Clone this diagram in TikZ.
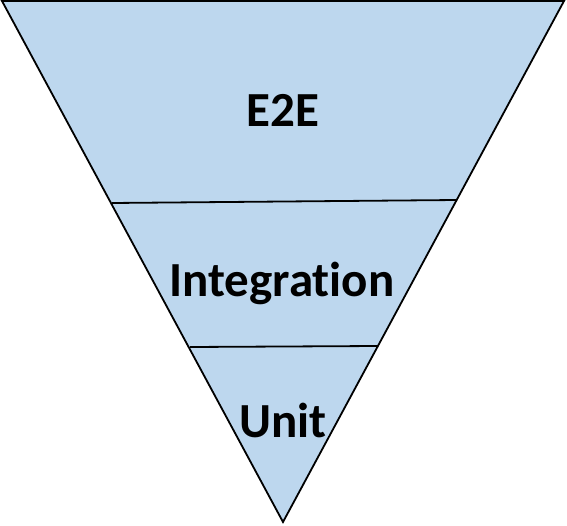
\documentclass[tikz,border=0pt]{standalone}
\usepackage{fontspec}
\setmainfont{Carlito}[Ligatures={NoCommon,NoRare,NoContextual}]
\definecolor{tierblue}{HTML}{BDD7EE}
\begin{document}
\begin{tikzpicture}[x=1pt,y=-1pt,
  edge/.style={draw=black,line width=1.8pt,line join=miter},
  tierlabel/.style={font=\fontsize{49}{55}\selectfont\bfseries,anchor=base,inner sep=0pt}]
\useasboundingbox (0,0) rectangle (567,526);
\coordinate (tl) at (2,1);
\coordinate (tr) at (564,1);
\coordinate (tip) at (283,522);
\coordinate (a1) at (112,203);
\coordinate (b1) at (457,200);
\coordinate (a2) at (190,347);
\coordinate (b2) at (378,346);
\fill[tierblue] (tl) -- (tr) -- (tip) -- cycle;
\draw[edge] (a1) -- (b1);
\draw[edge] (a2) -- (b2);
\draw[edge] (tl) -- (tr) -- (tip) -- cycle;
\node[tierlabel] (e2e) at (283,127) {E2E};
\node[tierlabel] (integ) at (282,297) {Integration};
\node[tierlabel] (unit) at (283,437) {Unit};
\end{tikzpicture}
\end{document}
